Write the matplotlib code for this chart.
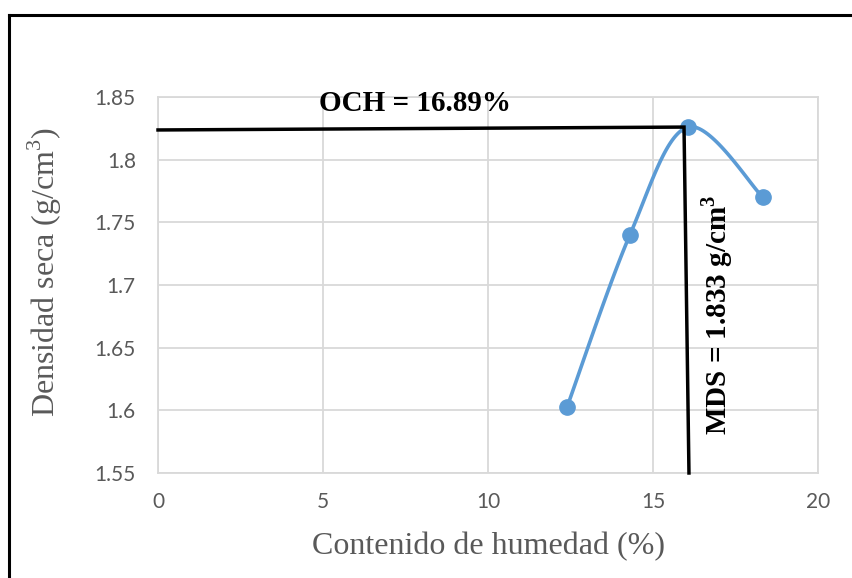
import numpy as np
import matplotlib.pyplot as plt
from matplotlib.lines import Line2D

# datos del ensayo proctor
humedad = [12.4, 14.3, 16.06, 18.33]
densidad = [1.603, 1.740, 1.826, 1.770]

och_x = [0, 15.94, 16.09]
och_y = [1.8237, 1.826, 1.55]

xticks = [0, 5, 10, 15, 20]
yticks = [1.55, 1.6, 1.65, 1.7, 1.75, 1.8, 1.85]
ytick_labels = ['1.55', '1.6', '1.65', '1.7', '1.75', '1.8', '1.85']

gris = '#595959'
azul = '#5B9BD5'

plt.rcParams['mathtext.fontset'] = 'custom'
plt.rcParams['mathtext.rm'] = 'Liberation Serif'
plt.rcParams['mathtext.bf'] = 'Liberation Serif:bold'

fig = plt.figure(figsize=(8.52, 5.78), dpi=100)
ax = fig.add_axes([158/852, 1-473/578, 660/852, 376/578])
ax.set_xlim(0, 20)
ax.set_ylim(1.55, 1.85)


def suavizar(xs, ys, n=40):
    # curva suavizada tipo Excel (Catmull-Rom) en coordenadas normalizadas
    sx, sy = 660/20, 376/0.3
    p = np.column_stack([np.array(xs)*sx, np.array(ys)*sy])
    out = []
    for i in range(len(p)-1):
        p0 = p[i-1] if i > 0 else p[i]
        p3 = p[i+2] if i+2 < len(p) else p[i+1]
        p1, p2 = p[i], p[i+1]
        c1 = p1 + (p2 - p0)/6
        c2 = p2 - (p3 - p1)/6
        t = np.linspace(0, 1, n)[:, None]
        seg = (1-t)**3*p1 + 3*(1-t)**2*t*c1 + 3*(1-t)*t**2*c2 + t**3*p2
        out.append(seg)
    c = np.vstack(out)
    return c[:, 0]/sx, c[:, 1]/sy


cx, cy = suavizar(humedad, densidad)
ax.plot(cx, cy, color=azul, lw=2.6, zorder=3, solid_capstyle='round')
ax.plot(humedad, densidad, 'o', color=azul, ms=11, zorder=4)

ax.plot(och_x, och_y, color='black', lw=2.5, zorder=5, clip_on=False,
        solid_joinstyle='miter')

ax.set_xticks(xticks)
ax.set_yticks(yticks)
ax.set_yticklabels(ytick_labels)
ax.grid(True, color='#d9d9d9', lw=1.3)
ax.set_axisbelow(True)
for s in ax.spines.values():
    s.set_color('#d9d9d9')
    s.set_linewidth(1.3)
ax.tick_params(length=0, labelsize=15, labelcolor=gris)
ax.tick_params(axis='y', pad=16)
ax.tick_params(axis='x', pad=14)
for lb in ax.get_xticklabels() + ax.get_yticklabels():
    lb.set_family('Lato')

ax.set_xlabel('Contenido de humedad (%)', family='Liberation Serif',
              fontsize=23, color=gris, va='center')
ax.set_ylabel('Densidad seca (g/cm$^3$)', family='Liberation Serif',
              fontsize=23, color=gris, va='center')
ax.xaxis.set_label_coords((489-158)/660, -(547-473)/376)
ax.yaxis.set_label_coords((45-158)/660, (473-272)/376)

ax.text(7.8, 1.8445, 'OCH = 16.89%', family='Liberation Serif',
        fontweight='bold', fontsize=21, ha='center', va='center')
ax.text(16.95, 1.676, r'MDS = 1.833 g/cm$^{\mathbf{3}}$', family='Liberation Serif',
        fontweight='bold', fontsize=21, ha='center', va='center', rotation=90)

# marco de la figura
fig.add_artist(Line2D([9/852, 1], [1-15/578, 1-15/578], color='black', lw=2.2,
                      transform=fig.transFigure))
fig.add_artist(Line2D([9/852, 9/852], [0, 1-15/578], color='black', lw=2.2,
                      transform=fig.transFigure))

fig.savefig('out.png', dpi=100)
